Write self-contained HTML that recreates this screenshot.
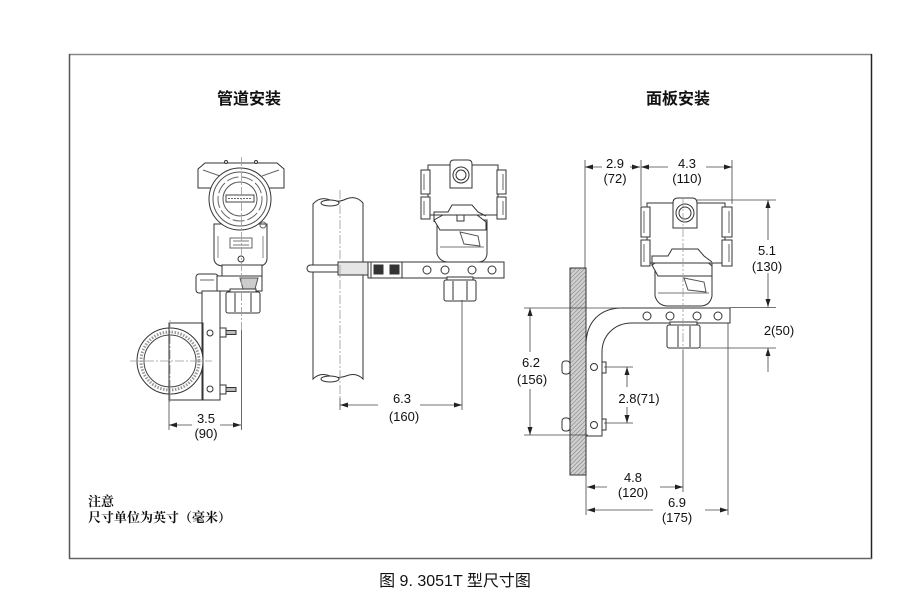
<!DOCTYPE html>
<html>
<head>
<meta charset="utf-8">
<style>
html,body{margin:0;padding:0;background:#fff;}
body{width:915px;height:616px;overflow:hidden;}
svg{display:block;}
.d{font-family:"Liberation Sans",Arial,sans-serif;font-size:13px;fill:#111;text-anchor:middle;}
.t{font-family:"Liberation Sans","Noto Sans CJK SC",sans-serif;font-size:16px;font-weight:bold;fill:#111;text-anchor:middle;}
.n{font-family:"Liberation Serif","Noto Serif CJK SC",serif;font-size:13px;font-weight:bold;fill:#111;}
.c{font-family:"Liberation Sans","Noto Sans CJK SC",sans-serif;font-size:16px;fill:#111;text-anchor:middle;}
</style>
</head>
<body>
<svg width="915" height="616" viewBox="0 0 915 616" xmlns="http://www.w3.org/2000/svg">
<defs>
<pattern id="h" width="3" height="3" patternUnits="userSpaceOnUse" patternTransform="rotate(45)">
<line x1="0" y1="0" x2="0" y2="3" stroke="#777" stroke-width="1"/>
</pattern>
</defs>

<!-- frame -->
<line x1="69" y1="54.5" x2="872" y2="54.5" stroke="#888" stroke-width="1.5"/>
<line x1="871.5" y1="54" x2="871.5" y2="559" stroke="#222" stroke-width="1.5"/>
<line x1="69.5" y1="54" x2="69.5" y2="559" stroke="#555" stroke-width="1.5"/>
<line x1="69" y1="558.5" x2="872" y2="558.5" stroke="#666" stroke-width="1.5"/>

<!-- titles -->
<text class="t" x="249" y="104">管道安装</text>
<text class="t" x="678" y="104">面板安装</text>

<!-- notes -->
<text class="n" x="88" y="506">注意</text>
<text class="n" x="88" y="522">尺寸单位为英寸（毫米）</text>

<!-- caption -->
<text class="c" x="455" y="586">图 9. 3051T 型尺寸图</text>

<!-- ============ LEFT ASSEMBLY ============ -->
<g stroke="#333" stroke-width="1" fill="#fff">
  <!-- lower body -->
  <path d="M214,224 L214,258 Q214,265 222,266 L260,266 Q267,265 267,258 L267,224 Z"/>
  <rect x="230" y="238" width="22" height="10" fill="none" stroke="#666"/>
  <line x1="233" y1="241" x2="249" y2="241" stroke="#777"/>
  <line x1="233" y1="245" x2="249" y2="245" stroke="#777"/>
  <line x1="218" y1="236" x2="218" y2="258" stroke="#888"/>
  <line x1="263" y1="236" x2="263" y2="258" stroke="#888"/>
  <circle cx="241" cy="259" r="3"/>
  <!-- top housing ears -->
  <path d="M198,169 L205,163 L277,163 L284,169 L284,188 L268,188 L262,181 L220,181 L214,188 L198,188 Z"/>
  <line x1="203" y1="170" x2="220" y2="176" stroke="#666"/>
  <line x1="279" y1="170" x2="262" y2="176" stroke="#666"/>
  <circle cx="226" cy="162" r="1.5"/>
  <circle cx="256" cy="162" r="1.5"/>
  <!-- front cover circles -->
  <circle cx="240" cy="199" r="31"/>
  <circle cx="240" cy="199" r="27" fill="none" stroke="#555"/>
  <circle cx="240" cy="199" r="22" fill="none" stroke="#666" stroke-dasharray="12,3"/>
  <circle cx="240" cy="199" r="17" fill="#fff" stroke="#555"/>
  <rect x="226" y="195" width="28" height="7" fill="#fff" stroke="#444"/>
  <line x1="228" y1="198.5" x2="252" y2="198.5" stroke="#666" stroke-dasharray="2,1"/>
  <circle cx="263" cy="225" r="3" fill="none" stroke="#666"/>
  <!-- neck -->
  <rect x="222" y="265" width="40" height="11"/>
  <!-- bracket top block -->
  <rect x="196" y="274" width="22" height="19" rx="3"/>
  <rect x="217" y="276" width="45" height="15"/>
  <line x1="200" y1="280" x2="214" y2="280" stroke="#666"/>
  <path d="M240,278 L258,278 L255,289 L243,289 Z" fill="#ccc" stroke="#555"/>
  <!-- nut -->
  <rect x="230" y="289" width="26" height="4"/>
  <rect x="226" y="292" width="34" height="21" rx="2"/>
  <line x1="235" y1="293" x2="235" y2="312"/>
  <line x1="251" y1="293" x2="251" y2="312"/>
  <!-- U-bolt block -->
  <rect x="169" y="323" width="34" height="77"/>
  <!-- vertical plate -->
  <rect x="202" y="291" width="18" height="109"/>
  <circle cx="210" cy="333" r="3"/>
  <circle cx="210" cy="389" r="3"/>
  <!-- bolts -->
  <rect x="220" y="328" width="6" height="9"/>
  <rect x="226" y="330.5" width="10" height="4" fill="#bbb"/>
  <rect x="220" y="385" width="6" height="9"/>
  <rect x="226" y="387.5" width="10" height="4" fill="#bbb"/>
  <!-- pipe section -->
  <circle cx="170" cy="361" r="33" fill="#fff"/>
  <circle cx="170" cy="361" r="29" fill="none" stroke="#999" stroke-width="3" stroke-dasharray="1.5,1.5"/>
  <circle cx="170" cy="361" r="26" fill="#fff" stroke="#444"/>
  <rect x="169" y="323" width="34" height="77" fill="none"/>
</g>
<!-- centerlines -->
<g stroke="#999" stroke-width="0.8" stroke-dasharray="9,2,2,2" fill="none">
  <line x1="241.5" y1="157" x2="241.5" y2="330"/>
  <line x1="130" y1="361" x2="212" y2="361"/>
  <line x1="170" y1="320" x2="170" y2="402"/>
</g>
<g stroke="#444" stroke-width="0.8">
  <line x1="241.5" y1="330" x2="241.5" y2="430"/>
  <line x1="169" y1="400" x2="169" y2="430"/>
  <line x1="169" y1="425" x2="192" y2="425"/>
  <line x1="220" y1="425" x2="241" y2="425"/>
</g>
<g fill="#222">
  <polygon points="169,425 177,422.5 177,427.5"/>
  <polygon points="241,425 233,422.5 233,427.5"/>
</g>
<text class="d" x="206" y="423">3.5</text>
<text class="d" x="206" y="438">(90)</text>

<!-- ============ MIDDLE ASSEMBLY ============ -->
<g stroke="#333" stroke-width="1" fill="#fff">
  <!-- pipe -->
  <path d="M313,204 Q320,196 330,200 Q338,203 346,199 Q356,195 363,203 L363,379 Q356,372 346,376 Q338,379 330,376 Q320,372 313,379 Z"/>
  <ellipse cx="330" cy="203" rx="9" ry="3"/>
  <ellipse cx="330" cy="379" rx="9" ry="3"/>
  <!-- clamp rod -->
  <rect x="307" y="265" width="66" height="7" rx="3.5"/>
  <rect x="338" y="262" width="34" height="13" fill="#e6e6e6"/>
  <!-- bar -->
  <rect x="368" y="262" width="136" height="16"/>
  <rect x="371" y="262" width="31" height="16"/>
  <rect x="374" y="265" width="9" height="9" fill="#333"/>
  <rect x="390" y="265" width="9" height="9" fill="#333"/>
  <circle cx="427" cy="270" r="4"/>
  <circle cx="445" cy="270" r="4"/>
  <circle cx="472" cy="270" r="4"/>
  <circle cx="492" cy="270" r="4"/>
  <!-- nut -->
  <rect x="447" y="277" width="26" height="4"/>
  <rect x="444" y="280" width="32" height="21" rx="2"/>
  <line x1="453" y1="281" x2="453" y2="300"/>
  <line x1="467" y1="281" x2="467" y2="300"/>
  <!-- module -->
  <path d="M437,220 L437,254 Q440,262 448,262 L478,262 Q486,262 487,254 L487,220 Z"/>
  <line x1="440" y1="247" x2="484" y2="247" stroke="#777"/>
  <path d="M434,220 L450,211 L472,211 L486,222 L486,230 L440,230 Z"/>
  <path d="M460,232 L478,236 L480,246 L464,244 Z" fill="none" stroke="#555"/>
  <rect x="457" y="214" width="7" height="7" fill="none"/>
  <!-- housing -->
  <rect x="428" y="165" width="70" height="50"/>
  <rect x="421" y="170" width="9" height="24"/>
  <rect x="421" y="197" width="9" height="22"/>
  <rect x="497" y="170" width="9" height="24"/>
  <rect x="497" y="197" width="9" height="22"/>
  <line x1="424" y1="174" x2="424" y2="190" stroke="#666"/>
  <line x1="424" y1="201" x2="424" y2="215" stroke="#666"/>
  <line x1="503" y1="174" x2="503" y2="190" stroke="#666"/>
  <line x1="503" y1="201" x2="503" y2="215" stroke="#666"/>
  <path d="M434,222 L434,212 L448,212 L452,205 L472,205 L478,212 L486,216" fill="none"/>
  <!-- cap -->
  <path d="M450,188 L450,164 Q450,160 454,160 L468,160 Q472,160 472,164 L472,188 Z"/>
  <circle cx="461" cy="175" r="8"/>
  <circle cx="461" cy="175" r="5"/>
</g>
<g stroke="#999" stroke-width="0.8" stroke-dasharray="9,2,2,2" fill="none">
  <line x1="340" y1="190" x2="340" y2="398"/>
</g>
<g stroke="#444" stroke-width="0.8">
  <line x1="340" y1="398" x2="340" y2="410"/>
  <line x1="462" y1="300" x2="462" y2="410"/>
  <line x1="340" y1="405" x2="378" y2="405"/>
  <line x1="420" y1="405" x2="462" y2="405"/>
</g>
<g fill="#222">
  <polygon points="340,405 348,402.5 348,407.5"/>
  <polygon points="462,405 454,402.5 454,407.5"/>
</g>
<text class="d" x="402" y="403">6.3</text>
<text class="d" x="404" y="421">(160)</text>

<!-- ============ RIGHT ASSEMBLY ============ -->
<!-- panel -->
<rect x="570" y="268" width="16" height="207" fill="#cfcfcf" stroke="#333" stroke-width="1"/>
<rect x="570" y="268" width="16" height="207" fill="url(#h)" stroke="#333" stroke-width="1"/>
<g stroke="#333" stroke-width="1" fill="#fff">
  <!-- bracket -->
  <path d="M730,308 L622,308 C600,308 586,322 586,345 L586,436 L602,436 L602,352 C602,336 614,323 632,323 L730,323 Z"/>
  <circle cx="647" cy="316" r="4"/>
  <circle cx="670" cy="316" r="4"/>
  <circle cx="697" cy="316" r="4"/>
  <circle cx="718" cy="316" r="4"/>
  <circle cx="594" cy="367" r="3.5"/>
  <circle cx="594" cy="425" r="3.5"/>
  <!-- bolts -->
  <rect x="562" y="361" width="8" height="13" rx="3"/>
  <rect x="562" y="418" width="8" height="13" rx="3"/>
  <rect x="602" y="362" width="4" height="11"/>
  <rect x="602" y="419" width="4" height="11"/>
  <!-- nut -->
  <rect x="670" y="322" width="27" height="4"/>
  <rect x="667" y="325" width="33" height="23" rx="2"/>
  <line x1="678" y1="326" x2="678" y2="347"/>
  <line x1="690" y1="326" x2="690" y2="347"/>
  <!-- module -->
  <path d="M655,262 L655,296 Q658,306 668,306 L700,306 Q710,306 712,296 L712,262 Z"/>
  <line x1="658" y1="293" x2="709" y2="293" stroke="#777"/>
  <path d="M652,265 L670,254 L698,254 L712,266 L712,276 L658,276 Z"/>
  <path d="M684,278 L704,282 L706,292 L688,290 Z" fill="none" stroke="#555"/>
  <rect x="681" y="256" width="7" height="7" fill="none"/>
  <!-- housing -->
  <rect x="647" y="203" width="78" height="60"/>
  <rect x="641" y="207" width="9" height="30"/>
  <rect x="641" y="240" width="9" height="26"/>
  <rect x="722" y="207" width="10" height="30"/>
  <rect x="722" y="240" width="10" height="26"/>
  <line x1="644" y1="211" x2="644" y2="233" stroke="#666"/>
  <line x1="644" y1="244" x2="644" y2="262" stroke="#666"/>
  <line x1="729" y1="211" x2="729" y2="233" stroke="#666"/>
  <line x1="729" y1="244" x2="729" y2="262" stroke="#666"/>
  <path d="M652,266 L652,256 L668,256 L672,249 L698,249 L704,256 L712,262" fill="none"/>
  <!-- cap -->
  <path d="M673,228 L673,203 Q673,198 678,198 L692,198 Q697,198 697,203 L697,228 Z"/>
  <circle cx="685" cy="213" r="9"/>
  <circle cx="685" cy="213" r="6"/>
</g>
<g stroke="#999" stroke-width="0.8" stroke-dasharray="9,2,2,2" fill="none">
  <line x1="683" y1="198" x2="683" y2="350"/>
</g>
<!-- extension lines -->
<g stroke="#444" stroke-width="0.8">
  <line x1="585" y1="160" x2="585" y2="268"/>
  <line x1="641" y1="160" x2="641" y2="206"/>
  <line x1="732" y1="160" x2="732" y2="204"/>
  <line x1="697" y1="200" x2="776" y2="200"/>
  <line x1="730" y1="307.5" x2="776" y2="307.5"/>
  <line x1="700" y1="348" x2="776" y2="348"/>
  <line x1="524" y1="308" x2="622" y2="308"/>
  <line x1="524" y1="435" x2="588" y2="435"/>
  <line x1="604" y1="367" x2="633" y2="367"/>
  <line x1="604" y1="423" x2="633" y2="423"/>
  <line x1="728" y1="323" x2="728" y2="515"/>
  <line x1="683" y1="350" x2="683" y2="492"/>
  <line x1="586" y1="475" x2="586" y2="515"/>
  <!-- dim lines -->
  <line x1="585" y1="167" x2="602" y2="167"/>
  <line x1="630" y1="167" x2="640" y2="167"/>
  <line x1="641" y1="167" x2="668" y2="167"/>
  <line x1="706" y1="167" x2="732" y2="167"/>
  <line x1="768" y1="200" x2="768" y2="240"/>
  <line x1="768" y1="273" x2="768" y2="307"/>
  <line x1="768" y1="348" x2="768" y2="372"/>
  <line x1="530" y1="308" x2="530" y2="352"/>
  <line x1="530" y1="389" x2="530" y2="435"/>
  <line x1="627" y1="367" x2="627" y2="387"/>
  <line x1="627" y1="407" x2="627" y2="423"/>
  <line x1="587" y1="487" x2="607" y2="487"/>
  <line x1="660" y1="487" x2="683" y2="487"/>
  <line x1="587" y1="510" x2="653" y2="510"/>
  <line x1="705" y1="510" x2="728" y2="510"/>
</g>
<g fill="#222">
  <polygon points="585,167 593,164.5 593,169.5"/>
  <polygon points="640,167 632,164.5 632,169.5"/>
  <polygon points="641,167 649,164.5 649,169.5"/>
  <polygon points="732,167 724,164.5 724,169.5"/>
  <polygon points="768,200 765.5,208 770.5,208"/>
  <polygon points="768,307 765.5,299 770.5,299"/>
  <polygon points="768,348 765.5,356 770.5,356"/>
  <polygon points="530,308 527.5,316 532.5,316"/>
  <polygon points="530,435 527.5,427 532.5,427"/>
  <polygon points="627,367 624.5,375 629.5,375"/>
  <polygon points="627,423 624.5,415 629.5,415"/>
  <polygon points="587,487 595,484.5 595,489.5"/>
  <polygon points="683,487 675,484.5 675,489.5"/>
  <polygon points="587,510 595,507.5 595,512.5"/>
  <polygon points="728,510 720,507.5 720,512.5"/>
</g>
<text class="d" x="615" y="168">2.9</text>
<text class="d" x="615" y="183">(72)</text>
<text class="d" x="687" y="168">4.3</text>
<text class="d" x="687" y="183">(110)</text>
<text class="d" x="767" y="255">5.1</text>
<text class="d" x="767" y="271">(130)</text>
<text class="d" x="779" y="335">2(50)</text>
<text class="d" x="531" y="367">6.2</text>
<text class="d" x="532" y="384">(156)</text>
<text class="d" x="639" y="403">2.8(71)</text>
<text class="d" x="633" y="482">4.8</text>
<text class="d" x="633" y="497">(120)</text>
<text class="d" x="677" y="507">6.9</text>
<text class="d" x="677" y="522">(175)</text>
</svg>
</body>
</html>
